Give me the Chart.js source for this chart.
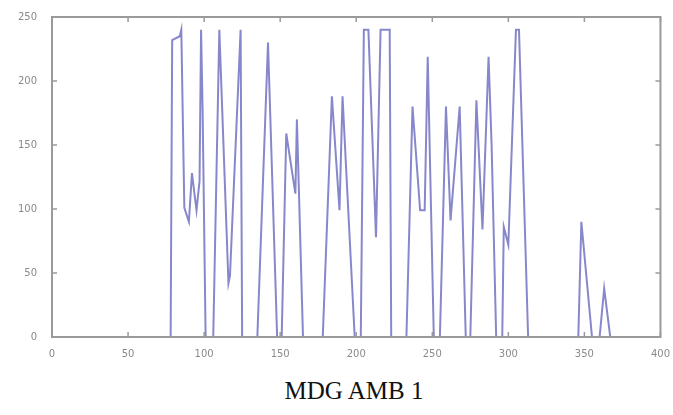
<!DOCTYPE html>
<html>
<head>
<meta charset="utf-8">
<script src="https://cdn.jsdelivr.net/npm/chart.js@4.4.1/dist/chart.umd.min.js"></script>
<style>
  body { margin: 0; background: #fff; width: 673px; height: 415px; overflow: hidden; }
  #wrap { position: absolute; left: 0; top: 0; width: 673px; height: 360px; }
  #caption { position: absolute; left: 0; width: 708px; top: 377px; text-align: center;
    font-family: "Liberation Serif", serif; font-size: 25px; color: #111; }
</style>
</head>
<body>
<div id="wrap"><canvas id="chart"></canvas></div>
<div id="caption">MDG AMB 1</div>
<script>
// sample index (x) and reading (y)
const xs = [78, 79, 84, 85, 87, 90, 92, 95, 97, 98, 99, 101,
  106, 110, 116, 117, 124, 125,
  135, 142, 148, 151, 154, 160, 161, 165,
  178, 184, 189, 191, 193, 199,
  203, 205, 208, 213, 216, 222, 223,
  233, 237, 242, 245, 247, 251,
  255, 259, 262, 268, 272, 275, 279, 283, 287, 289, 292,
  296, 297, 300, 305, 307, 313,
  346, 348, 355, 360, 363, 367];
const ys = [0, 232, 235, 240, 101, 90, 128, 99, 122, 240, 178, 0,
  0, 240, 42, 48, 240, 0,
  0, 230, 0, 0, 159, 112, 170, 0,
  0, 188, 99, 188, 140, 0,
  0, 240, 240, 78, 240, 240, 0,
  0, 180, 99, 99, 219, 0,
  0, 180, 91, 180, 0, 0, 185, 84, 219, 150, 0,
  0, 86, 72, 240, 240, 0,
  0, 90, 0, 0, 38, 0];
const xTicks = [0, 50, 100, 150, 200, 250, 300, 350, 400];
const yTicks = [0, 50, 100, 150, 200, 250];

const points = xs.map((x, i) => ({ x: x, y: ys[i] }));

// MATLAB-style box with inward ticks on all four sides
const boxPlugin = {
  id: 'box',
  afterDraw(chart) {
    const { ctx, chartArea: a, scales } = chart;
    ctx.save();
    ctx.strokeStyle = '#9a9a9a';
    ctx.lineWidth = 2;
    ctx.strokeRect(a.left, a.top, a.right - a.left, a.bottom - a.top);
    ctx.lineWidth = 1.5;
    ctx.beginPath();
    xTicks.forEach(v => {
      const px = scales.x.getPixelForValue(v);
      ctx.moveTo(px, a.bottom); ctx.lineTo(px, a.bottom - 5);
      ctx.moveTo(px, a.top); ctx.lineTo(px, a.top + 5);
    });
    yTicks.forEach(v => {
      const py = scales.y.getPixelForValue(v);
      ctx.moveTo(a.left, py); ctx.lineTo(a.left + 5, py);
      ctx.moveTo(a.right, py); ctx.lineTo(a.right - 5, py);
    });
    ctx.stroke();
    ctx.restore();
  }
};

new Chart(document.getElementById('chart'), {
  type: 'line',
  data: {
    datasets: [{
      data: points,
      borderColor: 'rgba(95, 95, 185, 0.75)',
      borderWidth: 2,
      pointRadius: 0,
      tension: 0,
      fill: false
    }]
  },
  options: {
    responsive: true,
    maintainAspectRatio: false,
    animation: false,
    layout: { padding: { left: 0, top: 17, right: 9, bottom: 0 } },
    plugins: { legend: { display: false }, tooltip: { enabled: false } },
    scales: {
      x: {
        type: 'linear',
        min: 0, max: 400,
        afterBuildTicks: s => { s.ticks = xTicks.map(v => ({ value: v })); },
        afterFit: s => { s.height = 23; },
        grid: { display: false },
        border: { display: false },
        ticks: { color: '#8a8a8a', font: { family: 'DejaVu Sans', size: 10 }, padding: 3, maxRotation: 0 }
      },
      y: {
        min: 0, max: 250,
        afterBuildTicks: s => { s.ticks = yTicks.map(v => ({ value: v })); },
        afterFit: s => { s.width = 52; },
        grid: { display: false },
        border: { display: false },
        ticks: { color: '#8a8a8a', font: { family: 'DejaVu Sans', size: 10 }, padding: 7 }
      }
    }
  },
  plugins: [boxPlugin]
});
</script>
</body>
</html>
